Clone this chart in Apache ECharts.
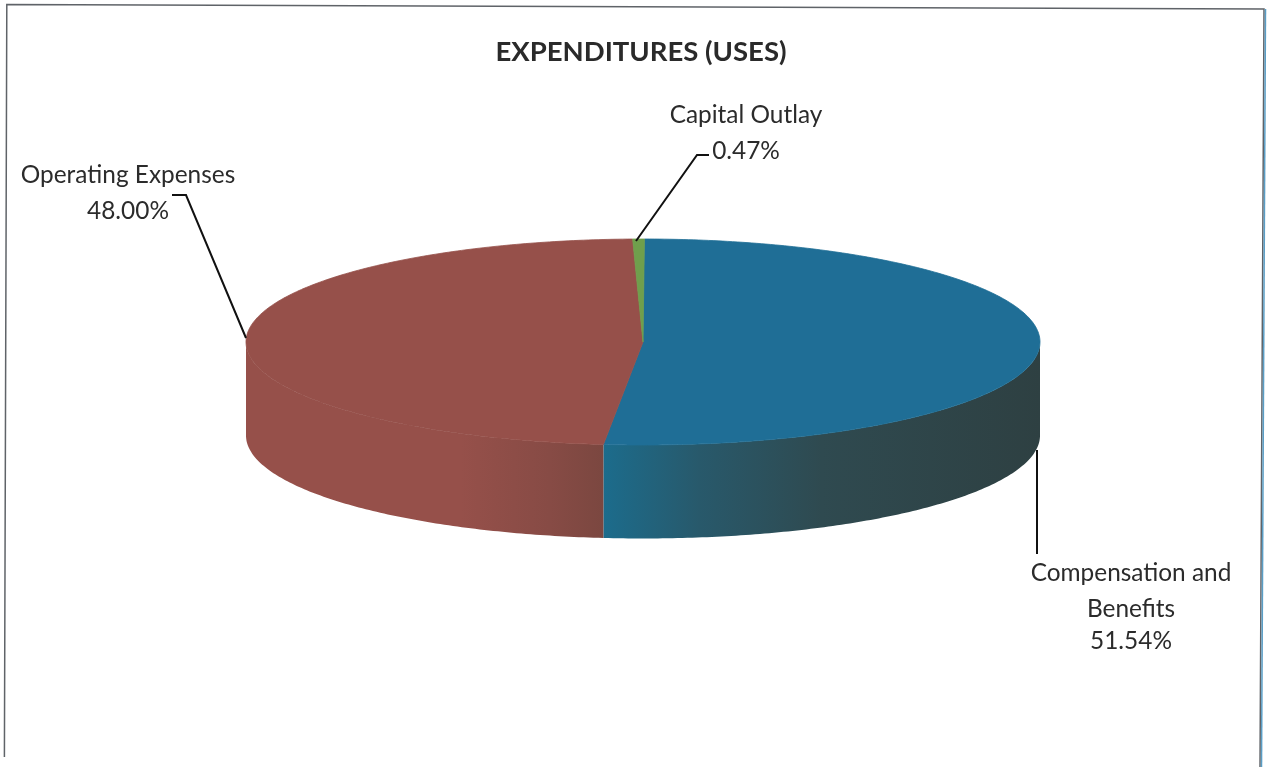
<!DOCTYPE html>
<html><head><meta charset="utf-8">
<style>html,body{margin:0;padding:0;background:#fff}#c{width:1270px;height:767px}</style>
<script src="https://cdn.jsdelivr.net/npm/echarts@6/dist/echarts.min.js"></script>
</head><body><div id="c"></div>
<script>
var categories = ['Compensation and Benefits', 'Operating Expenses', 'Capital Outlay'];
var shares = [51.54, 48.00, 0.47];
var titleText = 'EXPENDITURES (USES)';
var labelLines = [['Compensation and', 'Benefits', '51.54%'], ['Operating Expenses', '48.00%'], ['Capital Outlay', '0.47%']];

var C = {x: 643, y: 342, rx: 397, ry: 103, depth: 93.5, start: 0.2 * Math.PI / 180};
var topColors = ['#1f6e96', '#96504a', '#6f9f4c'];
var total = shares.reduce(function (a, b) { return a + b; }, 0);
var ranges = []; var acc = 0;
shares.forEach(function (v) { ranges.push([C.start + acc / total * 2 * Math.PI, C.start + (acc + v) / total * 2 * Math.PI]); acc += v; });

function pt(a, dy) { return [C.x + C.rx * Math.sin(a), C.y - C.ry * Math.cos(a) + (dy || 0)]; }
function arc(a0, a1, dy) { var n = Math.max(2, Math.ceil(Math.abs(a1 - a0) * 80)), p = []; for (var i = 0; i <= n; i++) p.push(pt(a0 + (a1 - a0) * i / n, dy)); return p; }
function lin(stops) { return {type: 'linear', x: 0, y: 0, x2: 1, y2: 0, colorStops: stops}; }

var wallFill = [
  lin([{offset: 0, color: '#1c6c8c'}, {offset: .22, color: '#28596b'}, {offset: .5, color: '#2f4a50'}, {offset: 1, color: '#2e4042'}]),
  lin([{offset: 0, color: '#96504a'}, {offset: .6, color: '#96504a'}, {offset: .85, color: '#874b45'}, {offset: 1, color: '#7b4740'}]),
  '#6f9f4c'
];

function wallItem(params, api) {
  var i = api.value(0);
  var a0 = Math.max(ranges[i][0], Math.PI / 2), a1 = Math.min(ranges[i][1], Math.PI * 1.5);
  if (a1 <= a0) return {type: 'group', children: []};
  var pts = arc(a0, a1, 0).concat(arc(a1, a0, C.depth));
  return {type: 'polygon', shape: {points: pts}, style: {fill: wallFill[i]}};
}
function topItem(params, api) {
  var i = api.value(0);
  var pts = [[C.x, C.y]].concat(arc(ranges[i][0], ranges[i][1], 0));
  return {type: 'polygon', shape: {points: pts}, style: {fill: topColors[i], stroke: topColors[i], lineWidth: 0.8, lineJoin: 'round'}};
}
function line(pts) { return {type: 'polyline', shape: {points: pts}, style: {fill: null, stroke: '#111', lineWidth: 2}, z: 20}; }
function txt(lines, cx, ys) {
  return lines.map(function (s, k) { return {type: 'text', style: {text: s, x: cx, y: ys[k], align: 'center', verticalAlign: 'middle', font: '24.4px Lato', fill: '#2b2b2b'}, z: 20}; });
}

var chart = echarts.init(document.getElementById('c'), null, {renderer: 'canvas'});
var rows = shares.map(function (v, i) { return [i, v]; });
chart.setOption({
  animation: false,
  backgroundColor: '#ffffff',
  title: {text: titleText, left: 636, top: 33, textAlign: 'center',
    textStyle: {fontFamily: 'Lato', fontWeight: 'bold', fontSize: 27.5, color: '#2a2a2a'}},
  graphic: [
    {type: 'polyline', shape: {points: [[4.4, 757], [6.8, 4.5], [1264, 9], [1260, 767]]}, style: {fill: null, stroke: '#5f6368', lineWidth: 1.5}},
    {type: 'line', shape: {x1: 1265.5, y1: 9, x2: 1261.5, y2: 767}, style: {stroke: '#5a9ec6', lineWidth: 1.5}},
    line([[636, 241], [697, 155], [709, 155]]),
    line([[246, 338], [186, 195], [172, 195]]),
    line([[1037, 450], [1037, 554]])
  ].concat(txt(labelLines[2], 746, [115, 151]), txt(labelLines[1], 128, [175, 211]), txt(labelLines[0], 1131, [573, 609, 641])),
  series: [
    {name: 'walls', type: 'custom', coordinateSystem: 'none', silent: true, renderItem: wallItem, data: rows},
    {name: 'tops', type: 'custom', coordinateSystem: 'none', silent: true, renderItem: topItem, data: rows}
  ]
});
</script></body></html>
